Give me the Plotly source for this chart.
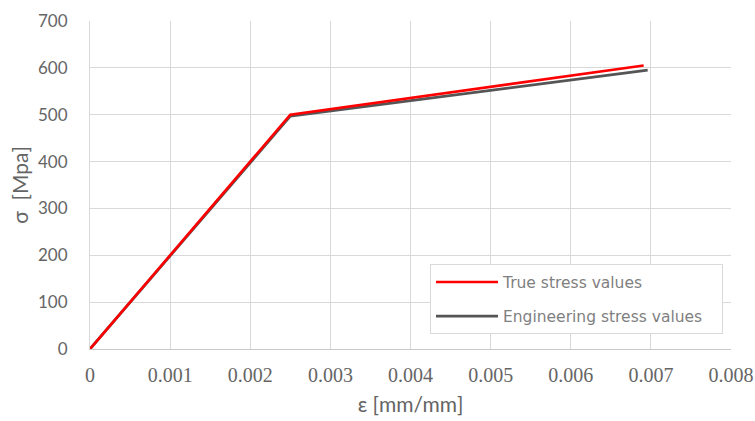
import plotly.graph_objects as go

# Data
strain_true = [0, 0.0025, 0.00691]
stress_true = [0, 500, 605]
strain_eng = [0, 0.0025, 0.00696]
stress_eng = [0, 497, 595]

x_ticks = [0, 0.001, 0.002, 0.003, 0.004, 0.005, 0.006, 0.007, 0.008]
x_tick_labels = ["0", "0.001", "0.002", "0.003", "0.004", "0.005", "0.006", "0.007", "0.008"]
y_ticks = [0, 100, 200, 300, 400, 500, 600, 700]

TXT = "#656565"
GRID = "#d9d9d9"
PAD = "\u00a0\u00a0\u00a0"

fig = go.Figure()
fig.add_trace(go.Scatter(
    x=strain_eng, y=stress_eng, mode="lines", name="Engineering stress values" + PAD,
    line=dict(color="#555555", width=2.8), legendgroup="g2", legendrank=2))
fig.add_trace(go.Scatter(
    x=strain_true, y=stress_true, mode="lines", name="True stress values" + PAD,
    line=dict(color="#ff0000", width=2.6), legendgroup="g1", legendrank=1))

fig.update_layout(
    width=755, height=421,
    margin=dict(l=90, r=24, t=21, b=72),
    paper_bgcolor="white", plot_bgcolor="white",
    showlegend=True,
    legend=dict(
        x=0.9875, y=0.151, xanchor="right", yanchor="middle",
        bgcolor="white", bordercolor=GRID, borderwidth=1,
        font=dict(family="DejaVu Sans", size=15.5, color="#7f7f7f"),
        tracegroupgap=11, itemwidth=62,
    ),
    xaxis=dict(
        range=[0, 0.008], tickvals=x_ticks, ticktext=x_tick_labels,
        showgrid=True, gridcolor=GRID, gridwidth=1, automargin=False,
        zeroline=False, showline=True, linecolor="#c8c8c8", linewidth=1,
        mirror=False, ticks="", ticklabelstandoff=8,
        tickfont=dict(family="Liberation Serif", size=20, color=TXT),
        title=dict(text="ε [mm/mm]", font=dict(family="Lato", size=21, color=TXT), standoff=12),
    ),
    yaxis=dict(
        range=[0, 700], tickvals=y_ticks, automargin=False,
        showgrid=True, gridcolor=GRID, gridwidth=1,
        zeroline=False, showline=True, linecolor=GRID, linewidth=1,
        ticks="", ticklabelstandoff=18,
        tickfont=dict(family="Lato", size=17, color=TXT),
        title=dict(text="σ  [Mpa]", font=dict(family="Lato", size=21, color=TXT), standoff=3),
    ),
)
fig.write_html("out.html")
